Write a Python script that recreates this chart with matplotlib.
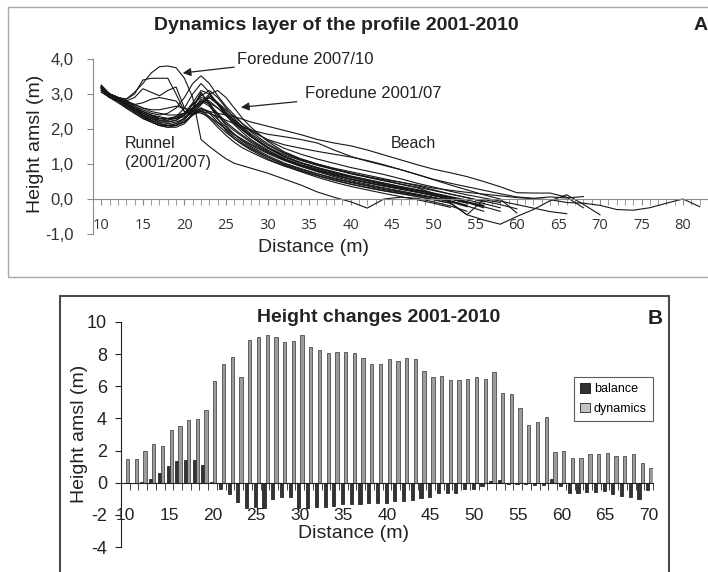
import numpy as np
import matplotlib
matplotlib.use("Agg")
import matplotlib.pyplot as plt
from matplotlib.patches import Rectangle, Patch

plt.rcParams['font.family'] = ['Liberation Sans', 'DejaVu Sans']

# ---------------- Panel A data: beach profiles (height amsl, m) ----------------
dist_grid = [10, 11, 12, 13, 14, 15, 16, 17, 18, 19, 20, 21, 22, 23, 24, 25, 26, 27, 28,
             30, 32, 34, 36, 38, 40, 42, 44, 46, 48, 50, 52, 54, 56, 58, 60, 62, 64, 66,
             68, 70, 72, 74, 76, 78, 80, 82]

prof_r1 = [3.20, 3.00, 2.90, 2.80, 2.65, 2.55, 2.45, 2.40, 2.45, 2.60, 2.90, 3.30, 3.52, 3.30, 2.95, 2.65, 2.40, 2.15, 1.92,
           1.58, 1.32, 1.14, 1.00, 0.88, 0.78, 0.68, 0.58, 0.48, 0.38, 0.26, 0.14, 0.04, -0.08]
prof_r2 = [3.15, 2.95, 2.85, 2.70, 2.55, 2.40, 2.30, 2.25, 2.25, 2.35, 2.60, 3.00, 3.30, 3.05, 2.70, 2.40, 2.12, 1.90, 1.70,
           1.40, 1.16, 0.98, 0.85, 0.72, 0.62, 0.52, 0.42, 0.33, 0.24, 0.14, 0.04, -0.08]
prof_r3 = [3.25, 3.00, 2.90, 2.75, 2.60, 2.45, 2.35, 2.25, 2.20, 2.25, 2.40, 2.70, 2.95, 3.10, 2.90, 2.60, 2.30, 2.05, 1.82,
           1.48, 1.22, 1.04, 0.90, 0.78, 0.66, 0.56, 0.46, 0.36, 0.27, 0.17, 0.07, -0.03, -0.13, -0.25]
prof_r4 = [3.10, 2.90, 2.80, 2.60, 2.45, 2.30, 2.20, 2.10, 2.10, 2.15, 2.30, 2.60, 3.00, 2.75, 2.40, 2.10, 1.85, 1.65, 1.50,
           1.24, 1.03, 0.87, 0.72, 0.58, 0.47, 0.37, 0.27, 0.19, 0.11, 0.03, -0.07, -0.20, -0.35]
prof_r5 = [3.20, 2.95, 2.80, 2.65, 2.50, 2.35, 2.20, 2.10, 2.05, 2.05, 2.15, 2.40, 2.70, 2.95, 2.75, 2.45, 2.20, 1.98, 1.78,
           1.45, 1.20, 1.02, 0.88, 0.75, 0.63, 0.52, 0.41, 0.31, 0.21, 0.11, 0.00, -0.12]
prof_r6 = [3.15, 2.95, 2.85, 2.70, 2.55, 2.45, 2.35, 2.30, 2.30, 2.35, 2.45, 2.60, 2.80, 2.65, 2.40, 2.15, 1.95, 1.78, 1.62,
           1.35, 1.12, 0.95, 0.80, 0.67, 0.56, 0.46, 0.37, 0.29, 0.20, 0.10, 0.00, -0.10, -0.20]
prof_r7 = [3.20, 3.00, 2.85, 2.70, 2.55, 2.40, 2.30, 2.20, 2.15, 2.20, 2.30, 2.50, 2.75, 3.00, 3.10, 2.90, 2.60, 2.30, 2.05,
           1.65, 1.35, 1.15, 1.00, 0.86, 0.74, 0.63, 0.53, 0.43, 0.34, 0.24, 0.14, 0.04, -0.06, -0.16, -0.28]
prof_r8 = [3.05, 2.90, 2.80, 2.65, 2.50, 2.35, 2.25, 2.15, 2.10, 2.10, 2.20, 2.40, 2.60, 2.45, 2.20, 1.98, 1.78, 1.60, 1.46,
           1.20, 0.98, 0.82, 0.68, 0.55, 0.43, 0.33, 0.24, 0.16, 0.08, -0.02, -0.12, -0.45, -0.02, -0.10]
prof_r9 = [3.20, 3.00, 2.90, 2.80, 2.65, 2.50, 2.40, 2.30, 2.30, 2.30, 2.40, 2.55, 2.75, 2.90, 2.75, 2.55, 2.35, 2.15, 1.98,
           1.68, 1.45, 1.28, 1.14, 1.02, 0.90, 0.80, 0.70, 0.58, 0.45, 0.34, 0.22, 0.12, 0.03, -0.06, -0.16, -0.26, -0.36, -0.42]
prof_r10 = [3.10, 2.90, 2.75, 2.60, 2.45, 2.30, 2.20, 2.10, 2.05, 2.10, 2.25, 2.60, 3.05, 2.70, 2.30, 1.95, 1.72, 1.55, 1.40,
            1.15, 0.95, 0.78, 0.62, 0.48, 0.36, 0.26, 0.16, 0.07, -0.02, -0.12, -0.24]
prof_r11 = [3.25, 3.00, 2.85, 2.70, 2.55, 2.40, 2.25, 2.15, 2.10, 2.15, 2.30, 2.55, 2.85, 2.70, 2.45, 2.20, 2.00, 1.82, 1.66,
            1.38, 1.14, 0.97, 0.83, 0.70, 0.58, 0.48, 0.38, 0.29, 0.20, 0.10, 0.00, -0.10, -0.22, -0.35]
prof_r12 = [3.10, 2.90, 2.80, 2.65, 2.50, 2.35, 2.25, 2.15, 2.10, 2.10, 2.20, 2.45, 2.70, 2.90, 2.70, 2.45, 2.22, 2.00, 1.80,
            1.48, 1.22, 1.04, 0.89, 0.76, 0.64, 0.54, 0.44, 0.35, 0.25, 0.15, 0.05, -0.08, -0.18]
prof_f1 = [3.20, 3.00, 2.90, 2.85, 3.05, 3.30, 3.60, 3.78, 3.80, 3.75, 3.45, 2.90, 1.70, 1.50, 1.32, 1.15, 1.02, 0.95, 0.88,
           0.74, 0.57, 0.40, 0.20, 0.05, -0.08, -0.26, 0.00, 0.05, 0.02, -0.08, -0.20, -0.35]
prof_f2 = [3.20, 3.00, 2.90, 2.85, 3.00, 3.40, 3.45, 3.45, 3.45, 3.00, 2.50, 2.40, 2.50, 2.30, 2.05, 1.82, 1.62, 1.46, 1.34,
           1.12, 0.94, 0.80, 0.66, 0.53, 0.42, 0.32, 0.23, 0.15, 0.07, -0.02, -0.12]
prof_f3 = [3.20, 3.00, 2.85, 2.80, 2.90, 3.15, 3.05, 2.95, 3.10, 3.20, 2.60, 2.40, 2.55, 2.35, 2.12, 1.90, 1.72, 1.56, 1.43,
           1.20, 1.00, 0.85, 0.72, 0.60, 0.49, 0.39, 0.30, 0.21, 0.12, 0.03, -0.08, -0.22]
prof_f4 = [3.15, 2.95, 2.85, 2.75, 2.70, 2.75, 2.85, 2.90, 2.85, 2.80, 2.50, 2.45, 2.60, 2.50, 2.28, 2.05, 1.85, 1.68, 1.54,
           1.30, 1.10, 0.93, 0.78, 0.64, 0.52, 0.42, 0.32, 0.23, 0.14, 0.05, -0.05, -0.18]
prof_f5 = [3.20, 3.00, 2.90, 2.80, 2.70, 2.60, 2.55, 2.55, 2.60, 2.65, 2.60, 2.50, 2.45, 2.35, 2.18, 2.00, 1.84, 1.70, 1.57,
           1.33, 1.13, 0.96, 0.82, 0.69, 0.57, 0.47, 0.37, 0.28, 0.19, 0.10, 0.01, -0.10, -0.25]
prof_b1 = [3.20, 3.00, 2.90, 2.80, 2.70, 2.60, 2.50, 2.45, 2.40, 2.40, 2.45, 2.50, 2.55, 2.50, 2.45, 2.40, 2.35, 2.28, 2.20,
           2.08, 1.96, 1.84, 1.70, 1.60, 1.52, 1.40, 1.26, 1.12, 0.98, 0.85, 0.75, 0.64, 0.50, 0.35, 0.18, 0.17, 0.17, 0.05, -0.25]
prof_b2 = [3.15, 2.95, 2.85, 2.75, 2.60, 2.50, 2.40, 2.35, 2.30, 2.30, 2.35, 2.45, 2.50, 2.45, 2.35, 2.25, 2.15, 2.05, 1.97,
           1.85, 1.78, 1.70, 1.60, 1.40, 1.22, 1.08, 0.96, 0.84, 0.70, 0.56, 0.45, 0.35, 0.25, 0.15, 0.06, 0.02, 0.06, 0.03, 0.07]
prof_b3 = [3.10, 2.95, 2.85, 2.70, 2.55, 2.45, 2.35, 2.30, 2.30, 2.35, 2.45, 2.60, 2.80, 2.75, 2.60, 2.42, 2.25, 2.08, 1.94,
           1.70, 1.55, 1.45, 1.36, 1.28, 1.20, 1.10, 0.98, 0.84, 0.70, 0.55, 0.40, 0.26, 0.12, 0.00, -0.40]
prof_b4 = [3.20, 3.00, 2.90, 2.75, 2.60, 2.50, 2.40, 2.30, 2.25, 2.30, 2.45, 2.75, 3.10, 3.00, 2.75, 2.50, 2.25, 2.05, 1.86,
           1.54, 1.30, 1.12, 0.98, 0.85, 0.72, 0.62, 0.52, 0.42, 0.32, 0.16, -0.10, -0.45, -0.60, -0.72, -0.50, -0.30, -0.05,
           0.12, -0.15, -0.45]
prof_b5 = [3.15, 2.95, 2.85, 2.70, 2.55, 2.40, 2.30, 2.20, 2.20, 2.25, 2.40, 2.70, 2.90, 2.80, 2.60, 2.38, 2.16, 1.96, 1.78,
           1.48, 1.26, 1.10, 0.96, 0.84, 0.74, 0.64, 0.55, 0.48, 0.40, 0.31, 0.25, 0.19, 0.14, 0.09, 0.04, 0.01, -0.02, -0.10,
           -0.12, -0.18, -0.30, -0.32, -0.25, -0.12, 0.00, -0.22]

profiles = [prof_r1, prof_r2, prof_r3, prof_r4, prof_r5, prof_r6, prof_r7, prof_r8, prof_r9, prof_r10,
            prof_r11, prof_r12, prof_f1, prof_f2, prof_f3, prof_f4, prof_f5,
            prof_b1, prof_b2, prof_b3, prof_b4, prof_b5]

xticks_a = [10, 15, 20, 25, 30, 35, 40, 45, 50, 55, 60, 65, 70, 75, 80]
yticks_a = [-1, 0, 1, 2, 3, 4]
ylabels_a = ['-1,0', '0,0', '1,0', '2,0', '3,0', '4,0']

# ---------------- Panel B data: height changes ----------------
dist_b = list(range(10, 71))
dynamics = [1.50, 1.50, 2.00, 2.40, 2.30, 3.30, 3.50, 3.90, 3.95, 4.50,
            6.30, 7.40, 7.85, 6.55, 8.90, 9.05, 9.20, 9.05, 8.74, 8.80,
            9.17, 8.47, 8.27, 8.08, 8.15, 8.15, 8.08, 7.75, 7.39, 7.39,
            7.68, 7.59, 7.75, 7.68, 6.94, 6.55, 6.67, 6.36, 6.36, 6.43,
            6.60, 6.44, 6.90, 5.59, 5.53, 4.66, 3.56, 3.75, 4.08, 1.90,
            1.97, 1.51, 1.51, 1.80, 1.80, 1.84, 1.66, 1.66, 1.80, 1.20, 0.93]
balance = [0.00, 0.00, 0.06, 0.25, 0.58, 1.04, 1.35, 1.41, 1.41, 1.10,
           0.06, -0.37, -0.68, -1.18, -1.57, -1.53, -1.57, -1.03, -0.87, -0.87,
           -1.60, -1.55, -1.50, -1.50, -1.45, -1.35, -1.35, -1.30, -1.25, -1.25,
           -1.25, -1.15, -1.15, -1.05, -0.95, -0.90, -0.65, -0.62, -0.62, -0.42,
           -0.38, -0.22, 0.10, 0.15, -0.05, -0.05, -0.10, -0.15, -0.15, 0.20,
           -0.20, -0.65, -0.65, -0.55, -0.55, -0.50, -0.70, -0.80, -0.90, -1.00, -0.45]
xticks_b = [10, 15, 20, 25, 30, 35, 40, 45, 50, 55, 60, 65, 70]
yticks_b = [-4, -2, 0, 2, 4, 6, 8, 10]

# ---------------- Figure ----------------
W, H = 708, 572
fig = plt.figure(figsize=(W / 100, H / 100), dpi=100)
fig.patch.set_facecolor('white')


def fx(px):
    return px / W


def fy(py):
    return 1 - py / H


# Frames
fig.add_artist(Rectangle((fx(8), fy(277)), (730 - 8) / W, (277 - 7) / H, transform=fig.transFigure,
                         fill=False, edgecolor='#a8a8a8', lw=1.0, clip_on=False))
fig.add_artist(Rectangle((fx(60), fy(590)), (669 - 60) / W, (590 - 296) / H, transform=fig.transFigure,
                         fill=False, edgecolor='#4a4a4a', lw=1.5, clip_on=False))

# ---------------- Panel A ----------------
grey = '#8a8a8a'
axa = fig.add_axes([fx(93), fy(234), (708 - 93) / W, (234 - 59) / H])
for prof in profiles:
    axa.plot(dist_grid[:len(prof)], prof, color='#161616', lw=0.8, solid_joinstyle='miter')
axa.set_xlim(9.0, 82.9)
axa.set_ylim(-1, 4)
axa.spines['top'].set_visible(False)
axa.spines['right'].set_visible(False)
axa.spines['left'].set_color(grey)
axa.spines['bottom'].set_color(grey)
axa.spines['bottom'].set_position(('data', 0))
axa.set_xticks(xticks_a)
axa.set_xticklabels([str(v) for v in xticks_a], fontfamily='Open Sans', fontsize=10.5, color='#333333')
axa.set_xticks(range(9, 84), minor=True)
axa.tick_params(axis='x', which='both', direction='out', length=4, color=grey, pad=10)
axa.set_yticks(yticks_a)
axa.set_yticklabels(ylabels_a, fontsize=12, color='#333333')
axa.tick_params(axis='y', direction='out', length=4, color=grey, pad=10)

fig.text(fx(336), fy(26), 'Dynamics layer of the profile 2001-2010', fontsize=14, fontweight='bold',
         ha='center', va='center', color='#222222')
fig.text(fx(694), fy(26), 'A', fontsize=14, fontweight='bold', ha='left', va='center', color='#222222')
fig.text(fx(35), fy(144), 'Height amsl (m)', fontsize=14, rotation=90, ha='center', va='center', color='#222222')
fig.text(fx(313), fy(247), 'Distance (m)', fontsize=14, ha='center', va='center', color='#222222')

axa.annotate('Foredune 2007/10', xy=(19.8, 3.6), xycoords='data',
             xytext=(fx(237), fy(59)), textcoords='figure fraction', fontsize=12, ha='left', va='center',
             color='#222222', arrowprops=dict(arrowstyle='-|>', color='#222222', lw=0.9,
                                               mutation_scale=12, shrinkA=0, shrinkB=0))
axa.annotate('Foredune 2001/07', xy=(26.8, 2.62), xycoords='data',
             xytext=(fx(305), fy(94)), textcoords='figure fraction', fontsize=12, ha='left', va='center',
             color='#222222', arrowprops=dict(arrowstyle='-|>', color='#222222', lw=0.9,
                                               mutation_scale=12, shrinkA=4, shrinkB=0))
fig.text(fx(125), fy(143), 'Runnel', fontsize=11.5, ha='left', va='center', color='#222222')
fig.text(fx(125), fy(163), '(2001/2007)', fontsize=11.5, ha='left', va='center', color='#222222')
fig.text(fx(391), fy(143), 'Beach', fontsize=11.5, ha='left', va='center', color='#222222')

# ---------------- Panel B ----------------
axb = fig.add_axes([fx(121), fy(547), (653 - 121) / W, (547 - 322) / H])
xb = np.array(dist_b, dtype=float)
axb.bar(xb - 0.10, balance, width=0.36, color='#333333', edgecolor='#111111', lw=0.5, zorder=3)
axb.bar(xb + 0.26, dynamics, width=0.38, color='#9c9c9c', edgecolor='#222222', lw=0.45, zorder=3)
axb.set_xlim(9.5, 70.5)
axb.set_ylim(-4, 10)
axb.spines['top'].set_visible(False)
axb.spines['right'].set_visible(False)
axb.spines['left'].set_color('#222222')
axb.spines['bottom'].set_color('#222222')
axb.spines['bottom'].set_position(('data', 0))
axb.spines['bottom'].set_zorder(4)
axb.set_xticks(xticks_b)
axb.set_xticklabels([str(v) for v in xticks_b], fontsize=12.5, color='#222222')
axb.set_xticks(np.arange(9.5, 71.0, 1.0), minor=True)
axb.tick_params(axis='x', which='major', length=0, pad=18)
axb.tick_params(axis='x', which='minor', direction='out', length=5, color='#222222')
axb.set_yticks(yticks_b)
axb.set_yticklabels([str(v) for v in yticks_b], fontsize=13, color='#222222')
axb.tick_params(axis='y', direction='out', length=4, color='#222222', pad=6)

fig.text(fx(379), fy(318), 'Height changes 2001-2010', fontsize=14, fontweight='bold',
         ha='center', va='center', color='#222222')
fig.text(fx(655), fy(318), 'B', fontsize=15, fontweight='bold', ha='center', va='center', color='#222222')
fig.text(fx(80), fy(434), 'Height amsl (m)', fontsize=14, rotation=90, ha='center', va='center', color='#222222')
fig.text(fx(353), fy(534), 'Distance (m)', fontsize=14, ha='center', va='center', color='#222222')

handles = [Patch(facecolor='#333333', edgecolor='#111111', lw=0.6),
           Patch(facecolor='#c4c4c4', edgecolor='#222222', lw=0.6)]
leg = axb.legend(handles, ['balance', 'dynamics'], loc='upper right', bbox_to_anchor=(1.0, 0.756),
                 bbox_transform=axb.transAxes, fontsize=9, frameon=True, fancybox=False,
                 edgecolor='#333333', handlelength=0.8, handleheight=0.8, handletextpad=0.3,
                 borderpad=0.5, labelspacing=0.6, borderaxespad=0)
leg.get_frame().set_linewidth(0.8)

fig.savefig('out.png', dpi=100)
